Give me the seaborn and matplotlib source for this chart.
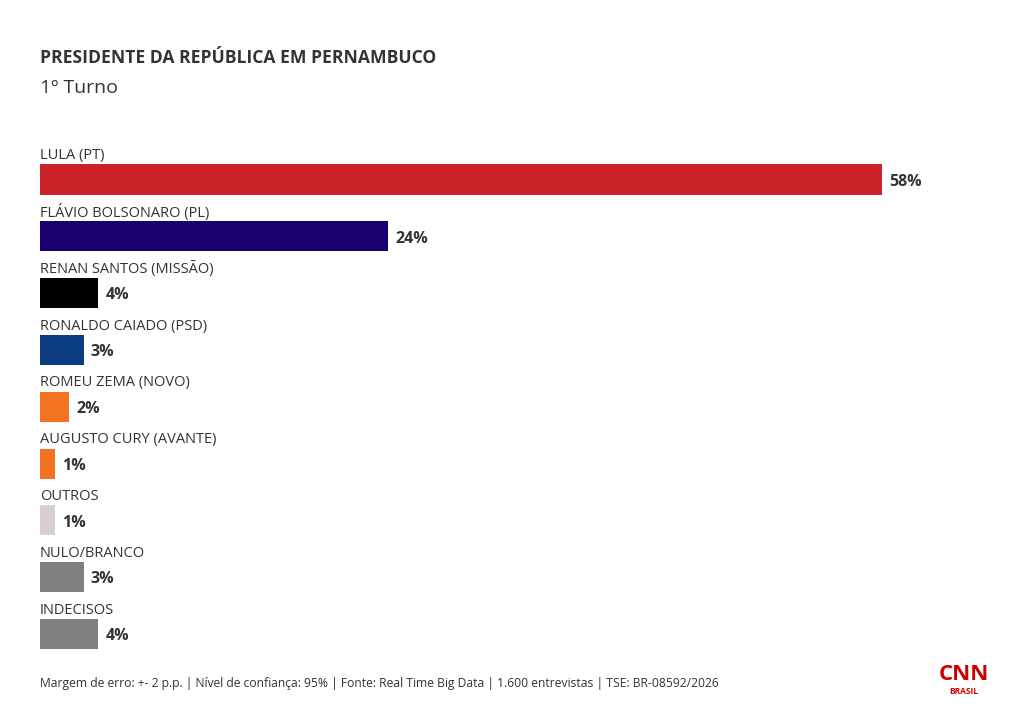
import matplotlib
matplotlib.use("Agg")
import matplotlib.pyplot as plt
import seaborn as sns
import pandas as pd

# data
candidatos = ["LULA (PT)", "FLÁVIO BOLSONARO (PL)", "RENAN SANTOS (MISSÃO)",
              "RONALDO CAIADO (PSD)", "ROMEU ZEMA (NOVO)", "AUGUSTO CURY (AVANTE)",
              "OUTROS", "NULO/BRANCO", "INDECISOS"]
votos = [58, 24, 4, 3, 2, 1, 1, 3, 4]
cores = ["#cc2229", "#1a0070", "#000000", "#0b3b80", "#f47321", "#f47321",
         "#d9cdd0", "#808080", "#808080"]

df = pd.DataFrame({"cand": candidatos, "pct": votos})

sns.set_theme(style="white")
plt.rcParams["font.family"] = ["Open Sans", "DejaVu Sans"]

fig = plt.figure(figsize=(10.2, 7.1), dpi=100)
fig.patch.set_facecolor("white")
ax = fig.add_axes([40/1020, 1 - 662.4/710, 980/1020, (662.4 - 122.7)/710])

sns.barplot(data=df, y="cand", x="pct", hue="cand", palette=cores,
            legend=False, width=0.53, ax=ax, orient="h", saturation=1, linewidth=0)
ax.set_xlim(0, 980 / (842 / 58))
ax.set_ylim(8.5, -1)
ax.axis("off")

for i, (c, v) in enumerate(zip(candidatos, votos)):
    ax.text(0, i - 0.42, c, va="center", ha="left", fontsize=10.5, color="#333333")
    ax.text(v + 0.5, i + 0.04, f"{v}%", va="center", ha="left", fontsize=11.5,
            fontweight="bold", color="#333333")

fig.text(40/1020, 1 - 58/710, "PRESIDENTE DA REPÚBLICA EM PERNAMBUCO", fontsize=12.6,
         fontweight="bold", color="#333333", va="center")
fig.text(40/1020, 1 - 88/710, "1º Turno", fontsize=14, color="#333333", va="center")
fig.text(40/1020, 1 - 683/710,
         "Margem de erro: +- 2 p.p. | Nível de confiança: 95% | Fonte: Real Time Big Data | 1.600 entrevistas | TSE: BR-08592/2026",
         fontsize=8.75, color="#333333", va="center")
fig.text(964/1020, 1 - 675/710, "CNN", fontsize=16, fontweight="bold", color="#cc0000",
         ha="center", va="center")
fig.text(964/1020, 1 - 692/710, "BRASIL", fontsize=6, fontweight="bold", color="#cc0000",
         ha="center", va="center")

fig.savefig("out.png", dpi=100)
